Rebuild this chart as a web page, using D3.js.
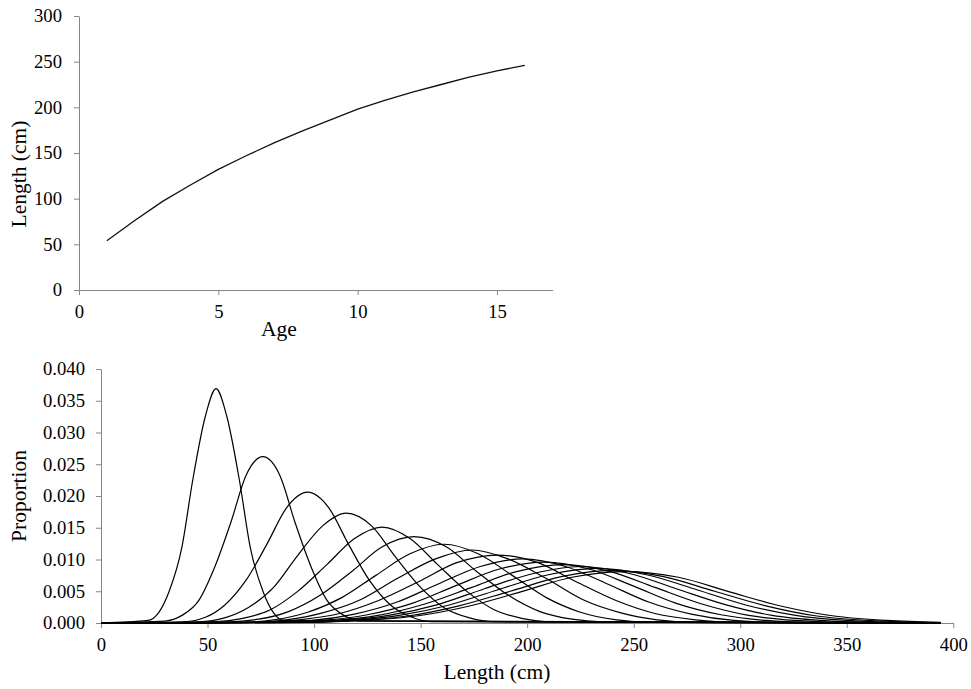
<!DOCTYPE html>
<html>
<head>
<meta charset="utf-8">
<script src="https://cdn.jsdelivr.net/npm/d3@7"></script>
<style>
  body { margin: 0; background: #fff; }
</style>
</head>
<body>
<script>
// 上图: 年龄-体长
var ages = [1, 2, 3, 4, 5, 6, 7, 8, 9, 10, 11, 12, 13, 14, 15, 16];
var lengthAtAge = [54, 76, 97, 115, 132, 147, 161, 174, 186, 198, 208, 217, 225, 233, 240, 246];
var ageTicks = [0, 5, 10, 15];
var lengthTicks = [0, 50, 100, 150, 200, 250, 300];

// 下图: 每个年龄的体长分布 (读图取点)
var distLengths = [
  [22, 27, 32, 38, 43, 49, 54, 59, 65, 70, 76, 81, 86],
  [30, 38, 46, 53, 61, 68, 76, 84, 91, 99, 106, 114, 122],
  [39, 49, 58, 68, 78, 87, 97, 107, 116, 126, 136, 146, 155],
  [46, 58, 69, 81, 92, 104, 115, 127, 138, 150, 161, 173, 184],
  [53, 66, 79, 92, 106, 119, 132, 145, 158, 172, 185, 198, 211],
  [59, 74, 88, 103, 118, 132, 147, 162, 176, 191, 206, 221, 235],
  [64, 81, 97, 113, 129, 145, 161, 177, 193, 209, 225, 242, 258],
  [70, 87, 104, 122, 139, 157, 174, 191, 209, 226, 244, 261, 278],
  [74, 93, 112, 130, 149, 167, 186, 205, 223, 242, 260, 279, 298],
  [79, 99, 119, 139, 158, 178, 198, 218, 238, 257, 277, 297, 317],
  [83, 104, 125, 146, 166, 187, 208, 229, 250, 270, 291, 312, 333],
  [87, 109, 130, 152, 174, 195, 217, 239, 260, 282, 304, 326, 347],
  [90, 113, 135, 158, 180, 203, 225, 248, 270, 293, 315, 338, 360],
  [93, 117, 140, 163, 186, 210, 233, 256, 280, 303, 326, 350, 373],
  [96, 120, 144, 168, 192, 216, 240, 264, 288, 312, 336, 360, 384],
  [98, 123, 148, 172, 197, 221, 246, 271, 295, 320, 344, 369, 394]
];
var distProps = [
  [0.0004, 0.0016, 0.0050, 0.0120, 0.0224, 0.0326, 0.0369, 0.0326, 0.0224, 0.0120, 0.0050, 0.0016, 0.0004],
  [0.0003, 0.0012, 0.0036, 0.0085, 0.0159, 0.0232, 0.0262, 0.0232, 0.0159, 0.0085, 0.0036, 0.0012, 0.0003],
  [0.0002, 0.0009, 0.0028, 0.0067, 0.0125, 0.0181, 0.0206, 0.0181, 0.0125, 0.0067, 0.0028, 0.0009, 0.0002],
  [0.0002, 0.0008, 0.0024, 0.0056, 0.0105, 0.0153, 0.0173, 0.0153, 0.0105, 0.0056, 0.0024, 0.0008, 0.0002],
  [0.0002, 0.0007, 0.0020, 0.0049, 0.0092, 0.0133, 0.0151, 0.0133, 0.0092, 0.0049, 0.0020, 0.0007, 0.0002],
  [0.0002, 0.0006, 0.0018, 0.0044, 0.0082, 0.0120, 0.0136, 0.0120, 0.0082, 0.0044, 0.0018, 0.0006, 0.0002],
  [0.0001, 0.0005, 0.0017, 0.0040, 0.0075, 0.0109, 0.0124, 0.0109, 0.0075, 0.0040, 0.0017, 0.0005, 0.0001],
  [0.0001, 0.0005, 0.0016, 0.0037, 0.0070, 0.0101, 0.0115, 0.0101, 0.0070, 0.0037, 0.0016, 0.0005, 0.0001],
  [0.0001, 0.0005, 0.0015, 0.0035, 0.0065, 0.0095, 0.0107, 0.0095, 0.0065, 0.0035, 0.0015, 0.0005, 0.0001],
  [0.0001, 0.0004, 0.0014, 0.0033, 0.0061, 0.0089, 0.0101, 0.0089, 0.0061, 0.0033, 0.0014, 0.0004, 0.0001],
  [0.0001, 0.0004, 0.0013, 0.0031, 0.0058, 0.0085, 0.0096, 0.0085, 0.0058, 0.0031, 0.0013, 0.0004, 0.0001],
  [0.0001, 0.0004, 0.0012, 0.0030, 0.0056, 0.0081, 0.0092, 0.0081, 0.0056, 0.0030, 0.0012, 0.0004, 0.0001],
  [0.0001, 0.0004, 0.0012, 0.0029, 0.0054, 0.0078, 0.0089, 0.0078, 0.0054, 0.0029, 0.0012, 0.0004, 0.0001],
  [0.0001, 0.0004, 0.0012, 0.0028, 0.0052, 0.0076, 0.0086, 0.0076, 0.0052, 0.0028, 0.0012, 0.0004, 0.0001],
  [0.0001, 0.0004, 0.0011, 0.0027, 0.0050, 0.0073, 0.0083, 0.0073, 0.0050, 0.0027, 0.0011, 0.0004, 0.0001],
  [0.0001, 0.0004, 0.0011, 0.0026, 0.0049, 0.0072, 0.0081, 0.0072, 0.0049, 0.0026, 0.0011, 0.0004, 0.0001]
];
var distRange = [0, 394];  // 分布序列的体长范围 (两端为 0)
var propTicks = [0, 0.005, 0.01, 0.015, 0.02, 0.025, 0.03, 0.035, 0.04];
var binTicks = [0, 50, 100, 150, 200, 250, 300, 350, 400];

var width = 971;
var height = 689;
var axisColor = '#868686';
var serif = '"Liberation Serif", "Times New Roman", Times, serif';
var tickFont = 18.7;
var titleFont = 21.5;

var svg = d3.select('body')
            .append('svg')
            .attr('width', width)
            .attr('height', height)
            .attr('font-family', serif);

function styleAxis(g) {
  g.attr('font-family', serif).attr('font-size', tickFont);
  g.select('.domain').attr('stroke', axisColor);
  g.selectAll('.tick line').attr('stroke', axisColor);
  g.selectAll('.tick text').attr('fill', '#000');
}

function title(txt, transform) {
  svg.append('text')
     .attr('transform', transform)
     .attr('text-anchor', 'middle')
     .attr('font-family', serif)
     .attr('font-size', titleFont)
     .attr('fill', '#000')
     .text(txt);
}

// ---------- 上图 ----------
var x1 = d3.scaleLinear().domain([0, 17]).range([79, 552.7]);
var y1 = d3.scaleLinear().domain([0, 300]).range([290, 16]);

svg.append('g')
   .attr('transform', 'translate(0,' + y1(0) + ')')
   .call(d3.axisBottom(x1).tickValues(ageTicks).tickSize(5).tickSizeOuter(0).tickPadding(10))
   .call(styleAxis);

svg.append('g')
   .attr('transform', 'translate(' + x1(0) + ',0)')
   .call(d3.axisLeft(y1).tickValues(lengthTicks).tickSize(5).tickSizeOuter(0).tickPadding(12))
   .call(styleAxis);

var growth = d3.line()
               .x(function(d, i){ return x1(ages[i]); })
               .y(function(d){ return y1(d); });

svg.append('path')
   .attr('d', growth(lengthAtAge))
   .attr('fill', 'none')
   .attr('stroke', '#111')
   .attr('stroke-width', 1.3);

title('Age', 'translate(279,336)');
title('Length (cm)', 'translate(26,174) rotate(-90)');

// ---------- 下图 ----------
var x2 = d3.scaleLinear().domain([0, 400]).range([101, 953.3]);
var y2 = d3.scaleLinear().domain([0, 0.04]).range([623, 369]);

svg.append('g')
   .attr('transform', 'translate(0,' + y2(0) + ')')
   .call(d3.axisBottom(x2).tickValues(binTicks).tickSize(5).tickSizeOuter(0).tickPadding(10))
   .call(styleAxis);

svg.append('g')
   .attr('transform', 'translate(' + x2(0) + ',0)')
   .call(d3.axisLeft(y2).tickValues(propTicks).tickFormat(d3.format('.3f')).tickSize(5).tickSizeOuter(0).tickPadding(11))
   .call(styleAxis);

var distLine = d3.line()
                 .x(function(d){ return x2(d[0]); })
                 .y(function(d){ return y2(d[1]); })
                 .curve(d3.curveMonotoneX);

var series = distLengths.map(function(lens, i){
  var pts = [[distRange[0], 0]];
  lens.forEach(function(l, j){ pts.push([l, distProps[i][j]]); });
  if (lens[lens.length - 1] < distRange[1]) pts.push([distRange[1], 0]);
  return pts;
});

svg.append('g')
   .selectAll('path')
   .data(series)
   .enter()
   .append('path')
   .attr('d', function(d){ return distLine(d); })
   .attr('fill', 'none')
   .attr('stroke', '#000')
   .attr('stroke-width', 1.2);

title('Length (cm)', 'translate(497,679)');
title('Proportion', 'translate(26,496) rotate(-90)');
</script>
</body>
</html>
